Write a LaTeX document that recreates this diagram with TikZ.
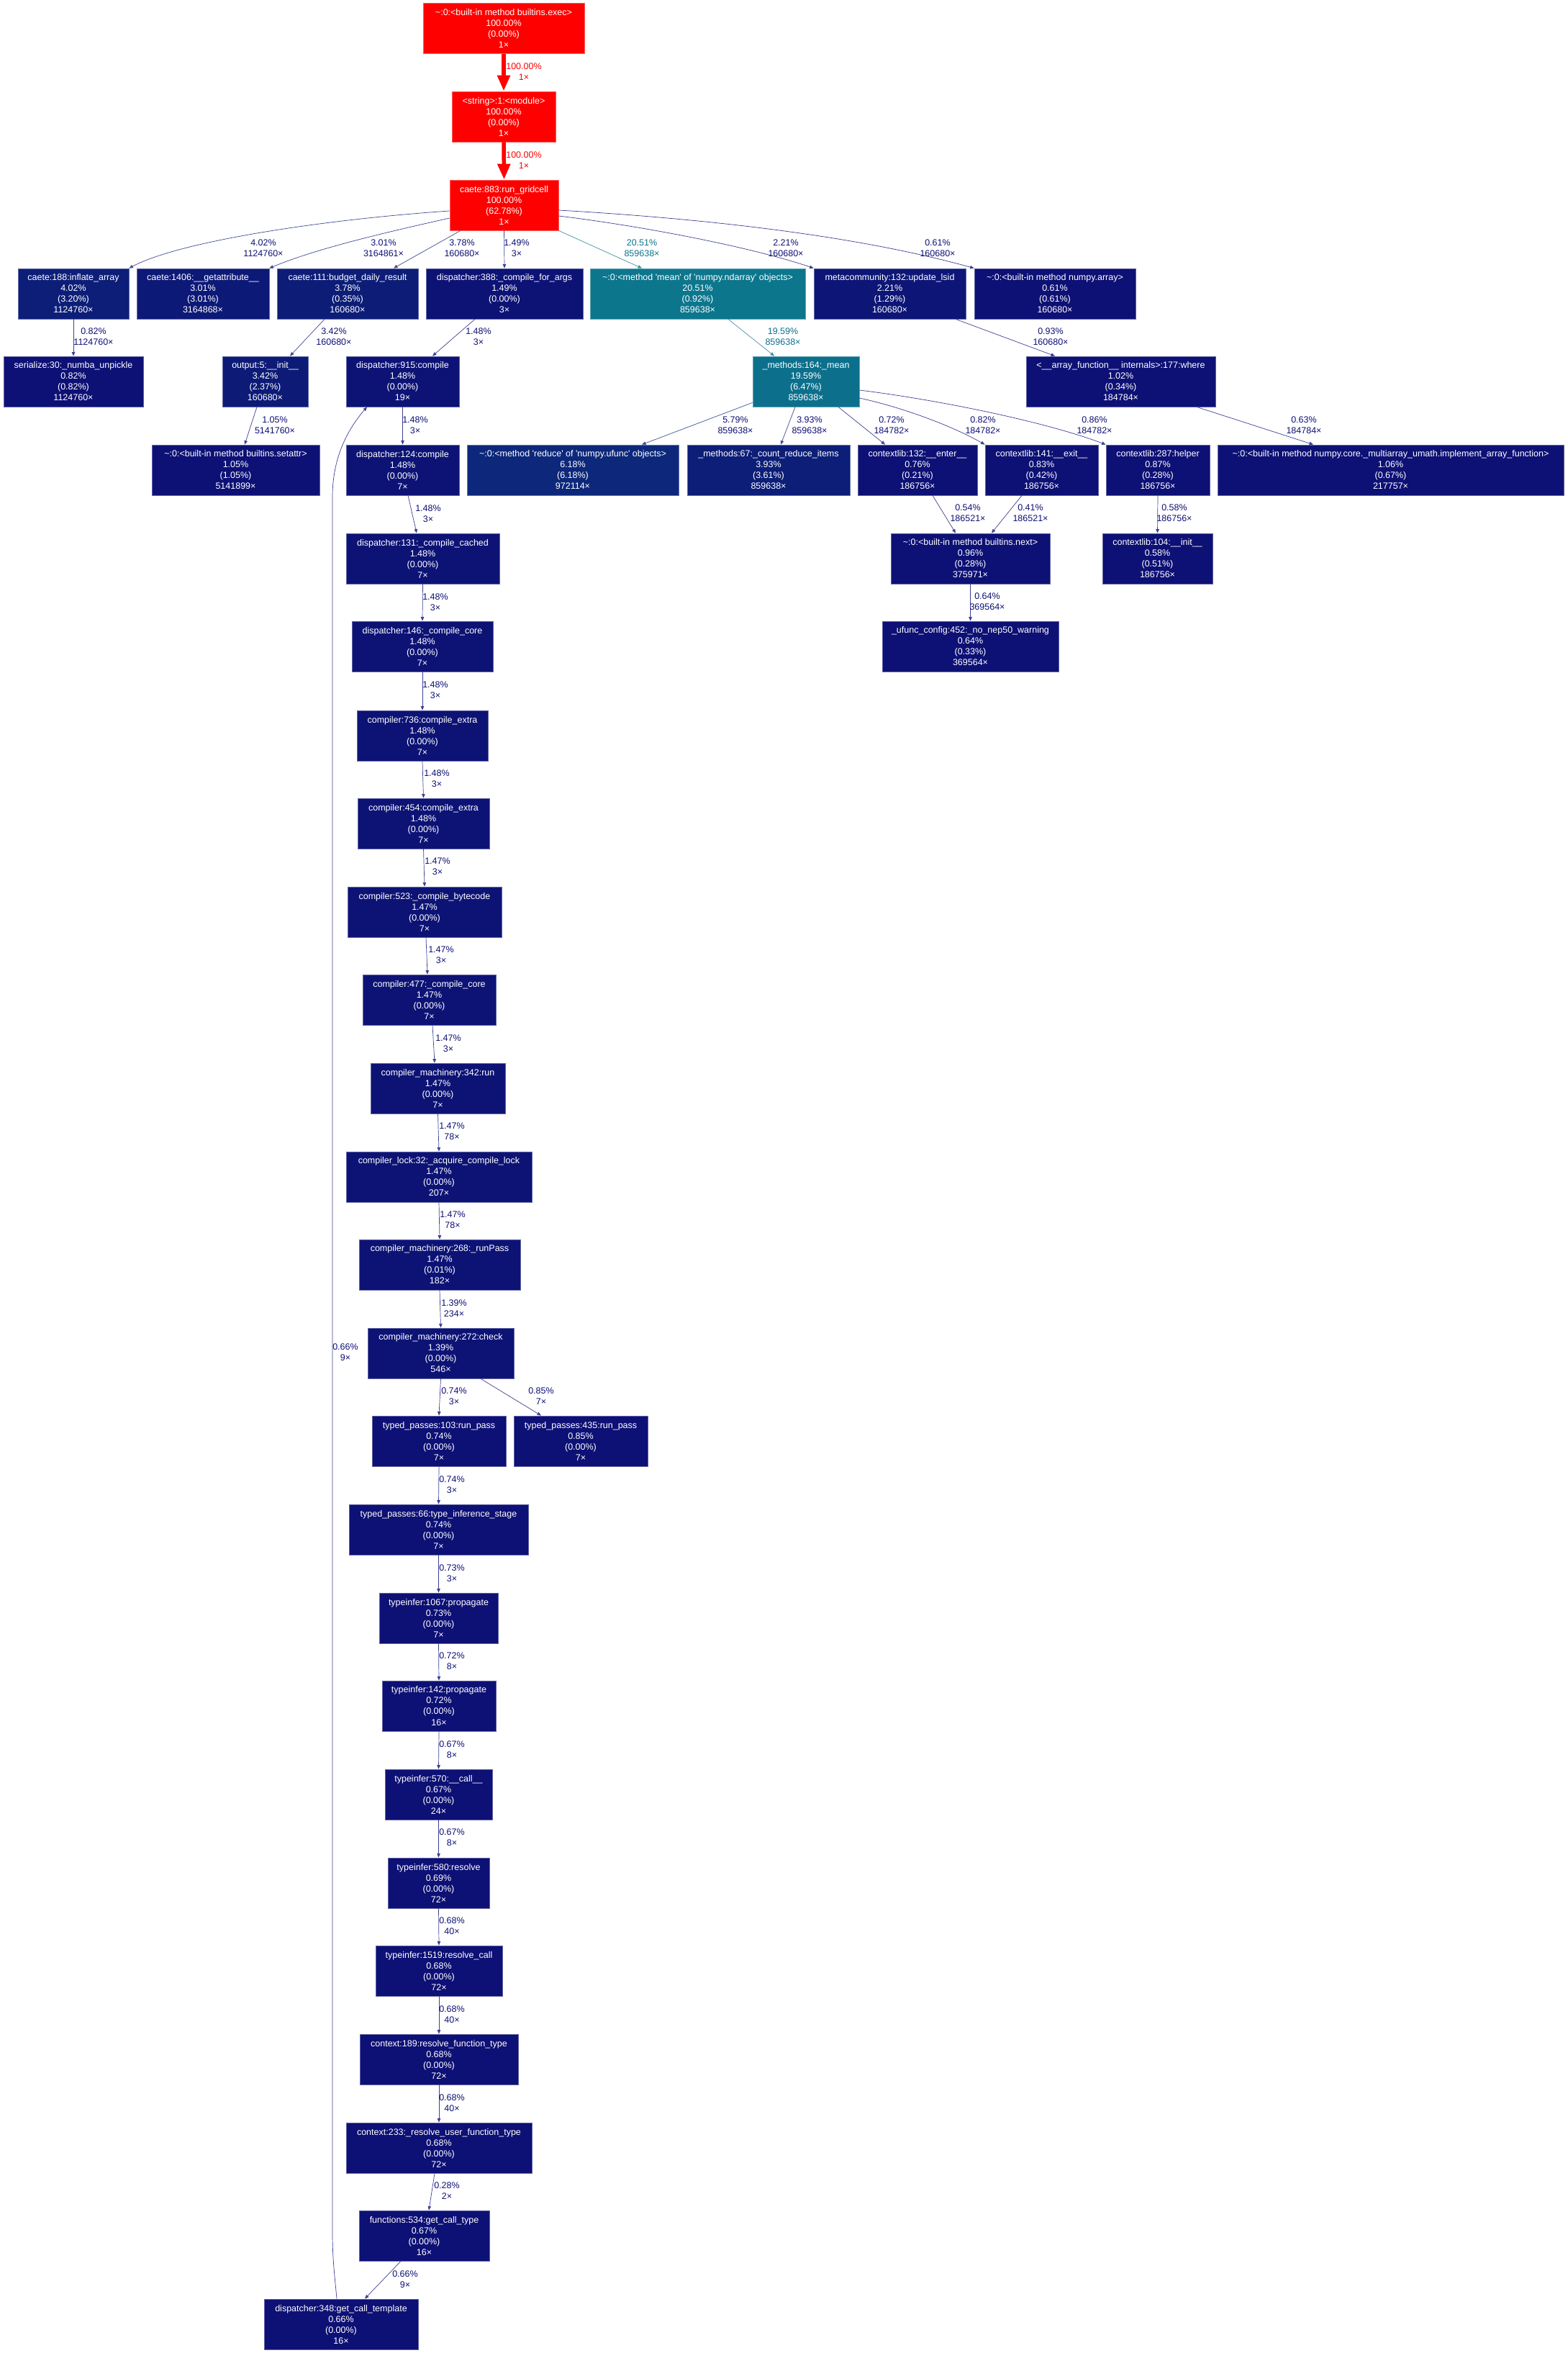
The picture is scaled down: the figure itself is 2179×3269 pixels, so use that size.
\documentclass[tikz,border=0pt]{standalone}
\usepackage{fontspec}
\setmainfont{Liberation Sans}
\usetikzlibrary{arrows.meta,calc}
\definecolor{cRed}{HTML}{FF0000}
\definecolor{cTealA}{HTML}{0C768D}
\definecolor{cTealB}{HTML}{0C708C}
\definecolor{c62}{HTML}{0D287B}
\definecolor{c40}{HTML}{0D1E78}
\definecolor{c38}{HTML}{0D1D77}
\definecolor{c34}{HTML}{0D1B77}
\definecolor{c30}{HTML}{0D1977}
\definecolor{c22}{HTML}{0D1676}
\definecolor{c15}{HTML}{0D1375}
\definecolor{c10}{HTML}{0D1175}
\definecolor{c07}{HTML}{0D1074}
\newcommand\nf{\fontsize{12.5}{15}\selectfont}
\newcommand\q{\textquotesingle}
\newcommand\tl{\textasciitilde}
\tikzset{
 gbox/.style={rectangle,inner sep=0pt,minimum height=70pt,align=center,text=white,font=\nf,line width=0.8pt},
 nc/.style={fill=#1,draw=#1!65!white},
 elabstyle/.style={align=center,font=\nf,inner sep=0pt},
 ed/.style={draw=#1!80!white,line width=0.7pt,-{Triangle[length=5.5pt,width=4.5pt]}},
 edred/.style={draw=cRed,line width=5.5pt,-{Triangle[length=22pt,width=17pt]}},
}
\newcommand\gnode[9]{\node[gbox,nc=#5,minimum width=#4pt] (#1) at (#2,#3) {#6\\#7\\(#8)\\#9};}
\newcommand\elabel[6]{\node[elabstyle,text=#4] (#1) at (#2,#3) {#5\\#6};}
\begin{document}
\begin{tikzpicture}[x=1pt,y=-1pt]
\useasboundingbox (0,0) rectangle (2179,3269);
\fill[white] (0,0) rectangle (2179,3269);
% nodes
\gnode{exec}{700}{39.5}{224}{cRed}{\tl:0:<built-in method builtins.exec>}{100.00\%}{0.00\%}{1×}
\gnode{module}{700}{162}{144}{cRed}{<string>:1:<module>}{100.00\%}{0.00\%}{1×}
\gnode{grid}{700.5}{285}{151}{cRed}{caete:883:run\_gridcell}{100.00\%}{62.78\%}{1×}
\gnode{inflate}{102}{408}{154}{c40}{caete:188:inflate\_array}{4.02\%}{3.20\%}{1124760×}
\gnode{getattr}{282}{408}{184}{c30}{caete:1406:\_\_getattribute\_\_}{3.01\%}{3.01\%}{3164868×}
\gnode{budget}{483}{408}{196}{c38}{caete:111:budget\_daily\_result}{3.78\%}{0.35\%}{160680×}
\gnode{cfa}{701}{408}{218}{c15}{dispatcher:388:\_compile\_for\_args}{1.49\%}{0.00\%}{3×}
\gnode{meanarr}{969.5}{408}{299}{cTealA}{\tl:0:<method \q mean\q{} of \q numpy.ndarray\q{} objects>}{20.51\%}{0.92\%}{859638×}
\gnode{meta}{1236.5}{408}{211}{c22}{metacommunity:132:update\_lsid}{2.21\%}{1.29\%}{160680×}
\gnode{nparray}{1466}{408}{224}{c07}{\tl:0:<built-in method numpy.array>}{0.61\%}{0.61\%}{160680×}
\gnode{serial}{102}{530}{194}{c07}{serialize:30:\_numba\_unpickle}{0.82\%}{0.82\%}{1124760×}
\gnode{outinit}{368.5}{530}{119}{c34}{output:5:\_\_init\_\_}{3.42\%}{2.37\%}{160680×}
\gnode{dA}{559.5}{530}{157}{c15}{dispatcher:915:compile}{1.48\%}{0.00\%}{19×}
\gnode{mean}{1120}{530}{148}{cTealB}{\_methods:164:\_mean}{19.59\%}{6.47\%}{859638×}
\gnode{where}{1557.5}{530}{263}{c10}{<\_\_array\_function\_\_ internals>:177:where}{1.02\%}{0.34\%}{184784×}
\gnode{setattr}{327.5}{653}{233}{c10}{\tl:0:<built-in method builtins.setattr>}{1.05\%}{1.05\%}{5141899×}
\gnode{dB}{559.5}{653}{157}{c15}{dispatcher:124:compile}{1.48\%}{0.00\%}{7×}
\gnode{reduce}{796}{653}{294}{c62}{\tl:0:<method \q reduce\q{} of \q numpy.ufunc\q{} objects>}{6.18\%}{6.18\%}{972114×}
\gnode{count}{1068}{653}{226}{c40}{\_methods:67:\_count\_reduce\_items}{3.93\%}{3.61\%}{859638×}
\gnode{enter}{1275}{653}{166}{c07}{contextlib:132:\_\_enter\_\_}{0.76\%}{0.21\%}{186756×}
\gnode{exit}{1447.5}{653}{157}{c07}{contextlib:141:\_\_exit\_\_}{0.83\%}{0.42\%}{186756×}
\gnode{helper}{1609}{653}{144}{c07}{contextlib:287:helper}{0.87\%}{0.28\%}{186756×}
\gnode{impl}{1932.5}{653}{481}{c10}{\tl:0:<built-in method numpy.core.\_multiarray\_umath.implement\_array\_function>}{1.06\%}{0.67\%}{217757×}
\gnode{dC}{587.5}{776}{213}{c15}{dispatcher:131:\_compile\_cached}{1.48\%}{0.00\%}{7×}
\gnode{next}{1348.5}{776}{221}{c10}{\tl:0:<built-in method builtins.next>}{0.96\%}{0.28\%}{375971×}
\gnode{clinit}{1608.5}{776}{153}{c07}{contextlib:104:\_\_init\_\_}{0.58\%}{0.51\%}{186756×}
\gnode{dD}{587}{898}{196}{c15}{dispatcher:146:\_compile\_core}{1.48\%}{0.00\%}{7×}
\gnode{ufunc}{1348.5}{898}{245}{c07}{\_ufunc\_config:452:\_no\_nep50\_warning}{0.64\%}{0.33\%}{369564×}
\gnode{cA}{587}{1022}{182}{c15}{compiler:736:compile\_extra}{1.48\%}{0.00\%}{7×}
\gnode{cB}{588.5}{1144}{183}{c15}{compiler:454:compile\_extra}{1.48\%}{0.00\%}{7×}
\gnode{cC}{590}{1267}{214}{c15}{compiler:523:\_compile\_bytecode}{1.47\%}{0.00\%}{7×}
\gnode{cD}{596.5}{1389}{185}{c15}{compiler:477:\_compile\_core}{1.47\%}{0.00\%}{7×}
\gnode{mA}{608.5}{1512}{187}{c15}{compiler\_machinery:342:run}{1.47\%}{0.00\%}{7×}
\gnode{lock}{610}{1635}{258}{c15}{compiler\_lock:32:\_acquire\_compile\_lock}{1.47\%}{0.00\%}{207×}
\gnode{mB}{611}{1757}{224}{c15}{compiler\_machinery:268:\_runPass}{1.47\%}{0.01\%}{182×}
\gnode{mC}{612.5}{1880}{203}{c15}{compiler\_machinery:272:check}{1.39\%}{0.00\%}{546×}
\gnode{tA}{610}{2002}{186}{c07}{typed\_passes:103:run\_pass}{0.74\%}{0.00\%}{7×}
\gnode{tB}{807}{2002}{186}{c07}{typed\_passes:435:run\_pass}{0.85\%}{0.00\%}{7×}
\gnode{tC}{609.5}{2125}{249}{c07}{typed\_passes:66:type\_inference\_stage}{0.74\%}{0.00\%}{7×}
\gnode{iA}{609.5}{2248}{165}{c07}{typeinfer:1067:propagate}{0.73\%}{0.00\%}{7×}
\gnode{iB}{610}{2370}{158}{c07}{typeinfer:142:propagate}{0.72\%}{0.00\%}{16×}
\gnode{iC}{609.5}{2493}{149}{c07}{typeinfer:570:\_\_call\_\_}{0.67\%}{0.00\%}{24×}
\gnode{iD}{609.5}{2616}{141}{c07}{typeinfer:580:resolve}{0.69\%}{0.00\%}{72×}
\gnode{iE}{610}{2738}{176}{c07}{typeinfer:1519:resolve\_call}{0.68\%}{0.00\%}{72×}
\gnode{xA}{610}{2861}{220}{c07}{context:189:resolve\_function\_type}{0.68\%}{0.00\%}{72×}
\gnode{xB}{610}{2984}{258}{c07}{context:233:\_resolve\_user\_function\_type}{0.68\%}{0.00\%}{72×}
\gnode{fn}{589.5}{3106}{181}{c07}{functions:534:get\_call\_type}{0.67\%}{0.00\%}{16×}
\gnode{dE}{474}{3229}{214}{c07}{dispatcher:348:get\_call\_template}{0.66\%}{0.00\%}{16×}
% edges
\draw[edred] (exec.south) -- (module.north);
\draw[edred] (module.south) -- (grid.north);
\draw[ed=c40] ($(grid.west)+(0,8)$) .. controls (450,305) and (250,335) .. (inflate.north east);
\draw[ed=c30] ($(grid.west)+(0,18)$) .. controls (540,322) and (440,345) .. (getattr.north east);
\draw[ed=c38] ($(grid.south)+(-60.5,0)$) -- ($(budget.north)+(64,0)$);
\draw[ed=c15] (grid.south) -- (cfa.north);
\draw[ed=cTealA] (grid.south east) -- ($(meanarr.north)+(-77.5,0)$);
\draw[ed=c22] ($(grid.east)+(0,15)$) .. controls (900,315) and (1050,345) .. (meta.north west);
\draw[ed=c07] ($(grid.east)+(0,7)$) .. controls (1000,305) and (1200,330) .. (nparray.north west);
\draw[ed=c07] (inflate.south) -- (serial.north);
\draw[ed=c34] ($(budget.south)+(-32,0)$) -- ($(outinit.north)+(34.5,0)$);
\draw[ed=c15] ($(cfa.south)+(-41,0)$) -- ($(dA.north)+(41.5,0)$);
\draw[ed=cTealB] ($(meanarr.south)+(42.5,0)$) -- ($(mean.north)+(-44,0)$);
\draw[ed=c10] ($(meta.south)+(91.5,0)$) -- ($(where.north)+(-91.5,0)$);
\draw[ed=c10] ($(outinit.south)+(-11.5,0)$) -- ($(setattr.north)+(12.5,0)$);
\draw[ed=c15] (dA.south) -- (dB.north);
\draw[ed=c62] ($(mean.south west)+(0,-6)$) -- ($(reduce.north)+(96,0)$);
\draw[ed=c40] ($(mean.south)+(-15,0)$) -- ($(count.north)+(17,0)$);
\draw[ed=c07] ($(mean.south)+(45,0)$) -- ($(enter.north)+(-45,0)$);
\draw[ed=c07] ($(mean.east)+(0,23)$) .. controls (1250,565) and (1320,590) .. (exit.north west);
\draw[ed=c07] ($(mean.east)+(0,12)$) .. controls (1300,555) and (1450,585) .. (helper.north west);
\draw[ed=c07] ($(where.south)+(105.5,0)$) -- ($(impl.north)+(-107.5,0)$);
\draw[ed=c07] ($(enter.south)+(21,0)$) -- ($(next.north)+(-20.5,0)$);
\draw[ed=c07] ($(exit.south)+(-27.5,0)$) -- ($(next.north)+(29.5,0)$);
\draw[ed=c07] (helper.south) -- (clinit.north);
\draw[ed=c07] (next.south) -- (ufunc.north);
\draw[ed=c15] ($(dB.south)+(7.5,0)$) -- ($(dC.north)+(-8.5,0)$);
\draw[ed=c15] (dC.south) -- (dD.north);
\draw[ed=c15] (dD.south) -- (cA.north);
\draw[ed=c15] (cA.south) -- (cB.north);
\draw[ed=c15] (cB.south) -- (cC.north);
\draw[ed=c15] ($(cC.south)+(2,0)$) -- ($(cD.north)+(-2.5,0)$);
\draw[ed=c15] ($(cD.south)+(4.5,0)$) -- ($(mA.north)+(-4.5,0)$);
\draw[ed=c15] (mA.south) -- (lock.north);
\draw[ed=c15] (lock.south) -- (mB.north);
\draw[ed=c15] (mB.south) -- (mC.north);
\draw[ed=c07] (mC.south) -- (tA.north);
\draw[ed=c07] ($(mC.south)+(55.5,0)$) -- ($(tB.north)+(-55,0)$);
\draw[ed=c07] (tA.south) -- (tC.north);
\draw[ed=c07] (tC.south) -- (iA.north);
\draw[ed=c07] (iA.south) -- (iB.north);
\draw[ed=c07] (iB.south) -- (iC.north);
\draw[ed=c07] (iC.south) -- (iD.north);
\draw[ed=c07] (iD.south) -- (iE.north);
\draw[ed=c07] (iE.south) -- (xA.north);
\draw[ed=c07] (xA.south) -- (xB.north);
\draw[ed=c07] ($(xB.south)+(-6,0)$) -- ($(fn.north)+(6.5,0)$);
\draw[ed=c07] ($(fn.south)+(-32.5,0)$) -- ($(dE.north)+(33,0)$);
\draw[ed=c07] ($(dE.north)+(-6,0)$) .. controls (465,3160) and (462,3140) .. (462,3100) -- (462,690) .. controls (462,640) and (480,600) .. ($(dA.south)+(-49.5,0)$);
% edge labels
\elabel{l1}{728}{99.5}{cRed}{100.00\%}{1×}
\elabel{l2}{728}{222.5}{cRed}{100.00\%}{1×}
\elabel{l3}{366}{345}{c07}{4.02\%}{1124760×}
\elabel{l4}{533}{345}{c07}{3.01\%}{3164861×}
\elabel{l5}{642}{345}{c07}{3.78\%}{160680×}
\elabel{l6}{718}{345}{c07}{1.49\%}{3×}
\elabel{l7}{892}{345}{cTealA}{20.51\%}{859638×}
\elabel{l8}{1092}{345}{c07}{2.21\%}{160680×}
\elabel{l9}{1303}{345}{c07}{0.61\%}{160680×}
\elabel{l10}{130}{467.5}{c07}{0.82\%}{1124760×}
\elabel{l11}{464}{467.5}{c07}{3.42\%}{160680×}
\elabel{l12}{665}{467.5}{c07}{1.48\%}{3×}
\elabel{l13}{1088}{467.5}{cTealB}{19.59\%}{859638×}
\elabel{l14}{1460}{467.5}{c07}{0.93\%}{160680×}
\elabel{l15}{382}{590.5}{c07}{1.05\%}{5141760×}
\elabel{l16}{577}{590.5}{c07}{1.48\%}{3×}
\elabel{l17}{1022}{590.5}{c07}{5.79\%}{859638×}
\elabel{l18}{1125}{590.5}{c07}{3.93\%}{859638×}
\elabel{l19}{1239}{590.5}{c07}{0.72\%}{184782×}
\elabel{l20}{1366}{590.5}{c07}{0.82\%}{184782×}
\elabel{l21}{1521}{590.5}{c07}{0.86\%}{184782×}
\elabel{l22}{1812}{590.5}{c07}{0.63\%}{184784×}
\elabel{l23}{1345}{713}{c07}{0.54\%}{186521×}
\elabel{l24}{1432}{713}{c07}{0.41\%}{186521×}
\elabel{l25}{1632}{713}{c07}{0.58\%}{186756×}
\elabel{l26}{1372}{835.5}{c07}{0.64\%}{369564×}
\elabel{l27}{595}{713.5}{c07}{1.48\%}{3×}
\elabel{l28}{605}{836.5}{c07}{1.48\%}{3×}
\elabel{l29}{605}{958.5}{c07}{1.48\%}{3×}
\elabel{l30}{607}{1081.5}{c07}{1.48\%}{3×}
\elabel{l31}{608}{1203.5}{c07}{1.47\%}{3×}
\elabel{l32}{613}{1326.5}{c07}{1.47\%}{3×}
\elabel{l33}{623}{1449.5}{c07}{1.47\%}{3×}
\elabel{l34}{628}{1571.5}{c07}{1.47\%}{78×}
\elabel{l35}{629}{1694.5}{c07}{1.47\%}{78×}
\elabel{l36}{631}{1817.5}{c07}{1.39\%}{234×}
\elabel{l37}{631}{1939.5}{c07}{0.74\%}{3×}
\elabel{l38}{752}{1939.5}{c07}{0.85\%}{7×}
\elabel{l39}{628}{2062.5}{c07}{0.74\%}{3×}
\elabel{l40}{628}{2185.5}{c07}{0.73\%}{3×}
\elabel{l41}{628}{2307.5}{c07}{0.72\%}{8×}
\elabel{l42}{628}{2430.5}{c07}{0.67\%}{8×}
\elabel{l43}{628}{2552.5}{c07}{0.67\%}{8×}
\elabel{l44}{628}{2675.5}{c07}{0.68\%}{40×}
\elabel{l45}{628}{2798.5}{c07}{0.68\%}{40×}
\elabel{l46}{628}{2921.5}{c07}{0.68\%}{40×}
\elabel{l47}{621}{3043.5}{c07}{0.28\%}{2×}
\elabel{l48}{563}{3166.5}{c07}{0.66\%}{9×}
\elabel{l49}{480}{1878.5}{c07}{0.66\%}{9×}
\end{tikzpicture}
\end{document}
